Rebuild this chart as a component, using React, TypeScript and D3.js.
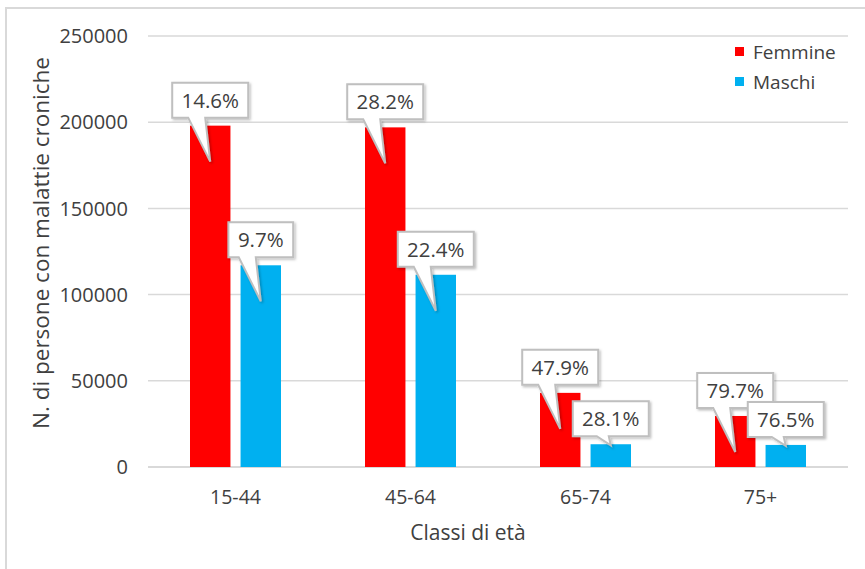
import React from "react";
import * as d3 from "d3";

// Age classes and series
const categories = ["15-44", "45-64", "65-74", "75+"];
const seriesNames = ["Femmine", "Maschi"];
const femmineValues = [198000, 197000, 43000, 29600];
const maschiValues = [117000, 111500, 13200, 12800];
// Percentages shown in the callouts above each bar
const femminePct = ["14.6%", "28.2%", "47.9%", "79.7%"];
const maschiPct = ["9.7%", "22.4%", "28.1%", "76.5%"];
const yTicks = [0, 50000, 100000, 150000, 200000, 250000];

const colors: Record<string, string> = { Femmine: "#FF0000", Maschi: "#00B0F0" };

const W = 865;
const H = 569;
const plot = { left: 148, right: 848, top: 36, bottom: 467 };
const FONT = "'Open Sans', 'Liberation Sans', sans-serif";
const TEXT = "#404040";

export default function App() {
  const x0 = d3.scaleBand<string>().domain(categories).range([plot.left, plot.right]).padding(0);
  const bw0 = x0.bandwidth();
  const x1 = d3
    .scaleBand<string>()
    .domain(seriesNames)
    .range([bw0 * 0.24, bw0 * 0.76])
    .paddingInner(0.2);
  const y = d3.scaleLinear().domain([0, 250000]).range([plot.bottom, plot.top]);

  const rows = categories.map((c, i) => ({
    cat: c,
    bars: [
      { s: "Femmine", v: femmineValues[i], pct: femminePct[i] },
      { s: "Maschi", v: maschiValues[i], pct: maschiPct[i] },
    ],
  }));

  const measure = (t: string) => t.length * 11.2 + 4;

  return (
    <svg
      width={W}
      height={H}
      style={{ position: "absolute", left: 0, top: 0, background: "#fff" }}
      fontFamily={FONT}
    >
      <defs>
        <filter id="callShadow" x="-20%" y="-20%" width="150%" height="150%">
          <feDropShadow dx="1.5" dy="1.5" stdDeviation="1.2" floodColor="#000" floodOpacity="0.25" />
        </filter>
      </defs>
      {/* chart frame */}
      <rect x={6} y={8} width={W + 20} height={H + 20} fill="#fff" stroke="#d9d9d9" strokeWidth={2} />

      {/* gridlines and y tick labels */}
      {yTicks.map((t) => (
        <g key={t}>
          <line
            x1={plot.left}
            x2={plot.right}
            y1={y(t)}
            y2={y(t)}
            stroke="#d9d9d9"
            strokeWidth={t === 0 ? 2 : 1.5}
          />
          <text x={128} y={y(t)} dy="0.36em" textAnchor="end" fontSize={20} fill={TEXT}>
            {t}
          </text>
        </g>
      ))}

      {/* bars */}
      {rows.map((r) =>
        r.bars.map((b) => (
          <rect
            key={r.cat + b.s}
            x={(x0(r.cat) as number) + (x1(b.s) as number)}
            y={y(b.v)}
            width={x1.bandwidth()}
            height={y(0) - y(b.v)}
            fill={colors[b.s]}
          />
        ))
      )}

      {/* category labels */}
      {categories.map((c) => (
        <text
          key={c}
          x={(x0(c) as number) + bw0 / 2}
          y={497}
          dy="0.36em"
          textAnchor="middle"
          fontSize={19.5}
          fill={TEXT}
        >
          {c}
        </text>
      ))}

      {/* callouts */}
      {rows.map((r) =>
        r.bars.map((b) => {
          const cx = (x0(r.cat) as number) + (x1(b.s) as number) + x1.bandwidth() / 2;
          const top = y(b.v);
          const barH = y(0) - top;
          const tipY = barH > 40 ? top + 36 : top + 1;
          const w = measure(b.pct) + 16;
          const h = 35;
          const bx = cx - w / 2;
          const by = top - 8 - h;
          const bb = by + h;
          const baseL = barH > 40 ? cx - 22 : cx - 14;
          const baseR = barH > 40 ? cx - 5 : cx - 2;
          const path =
            `M${bx},${by} L${bx + w},${by} L${bx + w},${bb} L${baseR},${bb} ` +
            `L${cx},${tipY} L${baseL},${bb} L${bx},${bb} Z`;
          return (
            <g key={"c" + r.cat + b.s}>
              <path
                d={path}
                fill="#fff"
                stroke="#bfbfbf"
                strokeWidth={2}
                strokeLinejoin="miter"
                filter="url(#callShadow)"
              />
              <text x={cx} y={by + h / 2} dy="0.36em" textAnchor="middle" fontSize={20.5} fill={TEXT}>
                {b.pct}
              </text>
            </g>
          );
        })
      )}

      {/* axis titles */}
      <text
        transform={`translate(41,${243}) rotate(-90)`}
        textAnchor="middle"
        dy="0.36em"
        fontSize={22.5}
        fill={TEXT}
      >
        N. di persone con malattie croniche
      </text>
      <text x={468} y={532} dy="0.36em" textAnchor="middle" fontSize={21} fill={TEXT}>
        Classi di età
      </text>

      {/* legend */}
      {seriesNames.map((s, i) => (
        <g key={s} transform={`translate(735,${52 + i * 30})`}>
          <rect x={0} y={-5} width={9} height={9} fill={colors[s]} />
          <text x={18} y={0} dy="0.36em" fontSize={19} fill={TEXT}>
            {s}
          </text>
        </g>
      ))}
    </svg>
  );
}
